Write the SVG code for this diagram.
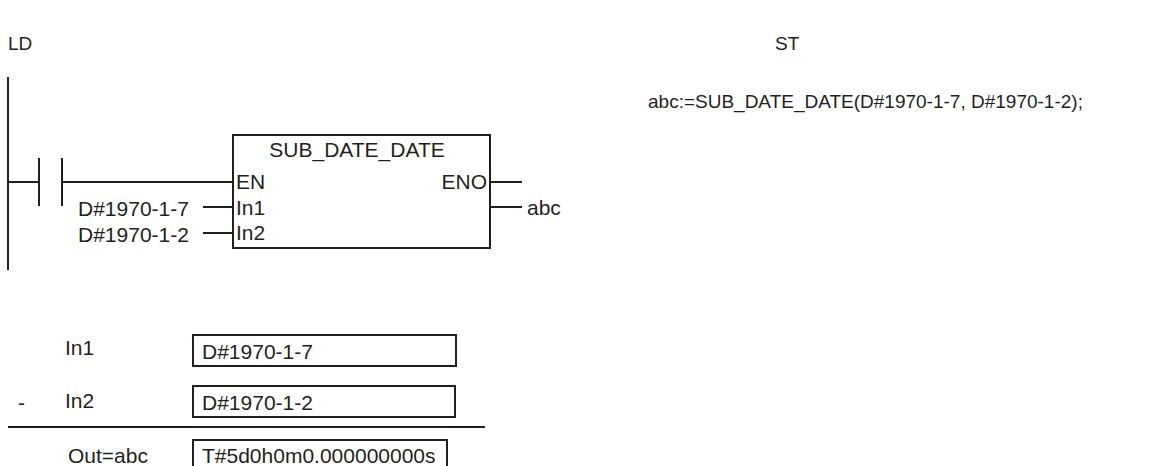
<svg xmlns="http://www.w3.org/2000/svg" width="1150" height="466" viewBox="0 0 1150 466">
<style>
text{font-family:"Liberation Sans",Arial,sans-serif;font-size:21px;fill:#231f20}
.hd{font-size:19px}
.ln{stroke:#231f20;stroke-width:2;fill:none}
.bx{stroke:#231f20;stroke-width:2;fill:#fff}
</style>
<rect width="1150" height="466" fill="#fff"/>
<g id="labels">
<text class="hd" x="8" y="50">LD</text>
<text class="hd" x="775" y="50">ST</text>
<text id="st-code" class="hd" x="648" y="108">abc:=SUB_DATE_DATE(D#1970-1-7, D#1970-1-2);</text>
</g>
<g id="connectors">
<line class="ln" x1="8" y1="77" x2="8" y2="270"/>
<line class="ln" x1="8" y1="182" x2="39" y2="182"/>
<line class="ln" x1="62" y1="182" x2="233" y2="182"/>
<line class="ln" x1="203" y1="207" x2="233" y2="207"/>
<line class="ln" x1="203" y1="233" x2="233" y2="233"/>
<line class="ln" x1="490" y1="182" x2="522" y2="182"/>
<line class="ln" x1="490" y1="207" x2="522" y2="207"/>
</g>
<g id="contact">
<line class="ln" x1="39" y1="158" x2="39" y2="206"/>
<line class="ln" x1="62" y1="158" x2="62" y2="206"/>
</g>
<g id="fb">
<rect class="bx" x="233" y="135" width="257" height="113"/>
<text x="357" y="157" text-anchor="middle">SUB_DATE_DATE</text>
<text x="236" y="189">EN</text>
<text x="236" y="215">In1</text>
<text x="236" y="240">In2</text>
<text x="487" y="189" text-anchor="end">ENO</text>
</g>
<g id="in-labels">
<text x="78" y="216">D#1970-1-7</text>
<text x="78" y="242">D#1970-1-2</text>
<text x="527" y="215">abc</text>
</g>
<g id="calc">
<text x="65" y="355">In1</text>
<rect class="bx" x="193" y="335" width="263" height="31"/>
<text x="202" y="359">D#1970-1-7</text>
<text x="18" y="410">-</text>
<text x="65" y="408">In2</text>
<rect class="bx" x="193" y="386" width="262" height="31"/>
<text x="202" y="410">D#1970-1-2</text>
<line class="ln" x1="8" y1="427" x2="485" y2="427"/>
<text x="68" y="463">Out=abc</text>
<rect class="bx" x="193" y="440" width="254" height="34"/>
<text x="202" y="463">T#5d0h0m0.000000000s</text>
</g>
</svg>
